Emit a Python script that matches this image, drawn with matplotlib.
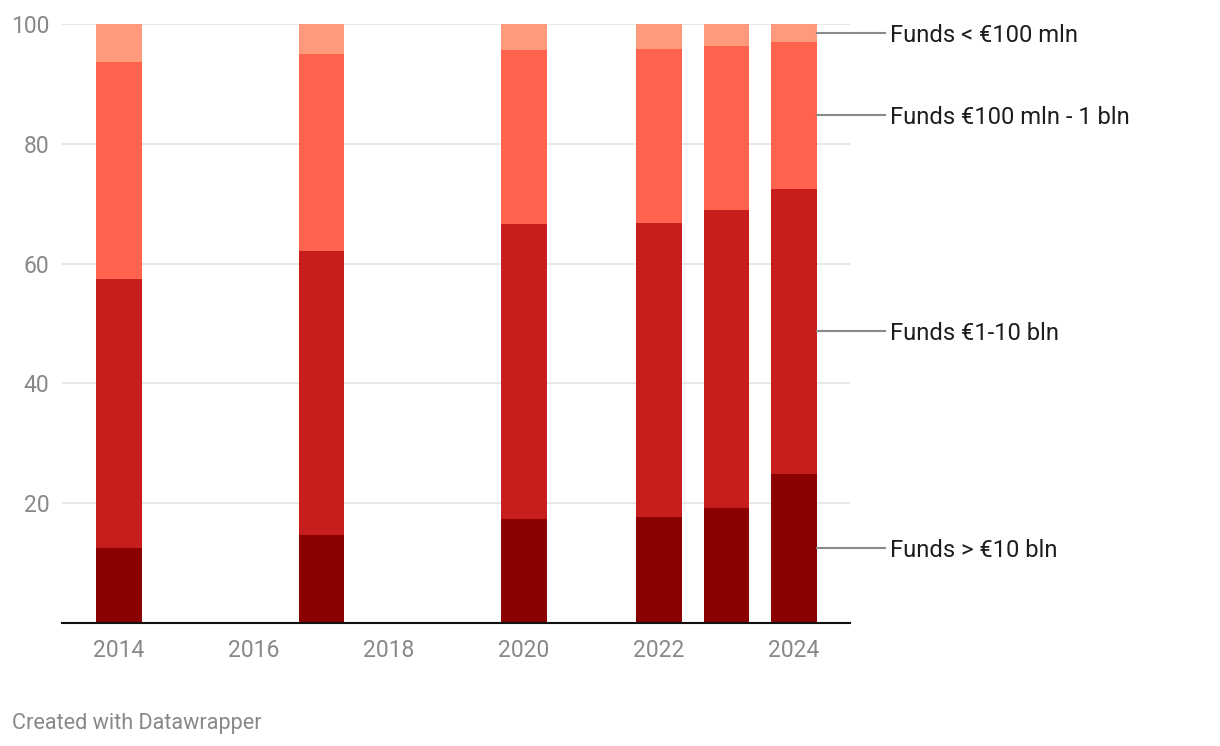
import matplotlib
matplotlib.use("Agg")
import matplotlib.pyplot as plt
import numpy as np

plt.rcParams['font.family'] = ['Roboto', 'DejaVu Sans']

years = [2014, 2017, 2020, 2022, 2023, 2024]
series_names = ["Funds > €10 bln", "Funds €1-10 bln", "Funds €100 mln - 1 bln", "Funds < €100 mln"]
over_10bln = [12.5, 14.7, 17.4, 17.7, 19.2, 24.9]
bln_1_10 = [44.9, 47.4, 49.2, 49.1, 49.8, 47.6]
mln100_1bln = [36.3, 32.9, 29.1, 29.0, 27.3, 24.5]
under_100mln = [6.3, 5.0, 4.3, 4.2, 3.7, 3.0]
colors = ["#8b0000", "#c81d1d", "#ff624d", "#ff9a7d"]
xticks = [2014, 2016, 2018, 2020, 2022, 2024]
yticks = [20, 40, 60, 80, 100]

W, H = 1220, 746
fig = plt.figure(figsize=(W/100, H/100), dpi=100)
ax = fig.add_axes([62/W, (H-623)/H, (850-62)/W, (623-24)/H])

data = [over_10bln, bln_1_10, mln100_1bln, under_100mln]
bottom = np.zeros(len(years))
width = 0.68
for vals, c in zip(data, colors):
    ax.bar(years, vals, width=width, bottom=bottom, color=c, zorder=3, linewidth=0)
    bottom += np.array(vals)

ax.set_xlim(2013.156, 2024.83)
ax.set_ylim(0, 100)
ax.set_yticks(yticks)
ax.set_xticks(xticks)
ax.grid(axis='y', color='#e0e0e0', linewidth=1.1, zorder=0)
for s in ['top', 'right', 'left']:
    ax.spines[s].set_visible(False)
ax.spines['bottom'].set_color('#111111')
ax.spines['bottom'].set_linewidth(1.5)
ax.spines['bottom'].set_zorder(4)
ax.tick_params(axis='both', length=0, labelsize=16.5, labelcolor='#888888')
ax.tick_params(axis='y', pad=9)
ax.tick_params(axis='x', pad=11.5)

# direct labels on the last bar
last = [d[-1] for d in data]
cum = np.cumsum([0] + last)
x_end = years[-1] + width/2
for i, name in enumerate(series_names):
    mid = (cum[i] + cum[i+1]) / 2
    ax.annotate(name, xy=(x_end, mid), xytext=(890/W, mid), textcoords=('figure fraction', 'data'),
                va='center_baseline', ha='left', fontsize=17.1, color='#1d1d1d',
                annotation_clip=False)
    ax.plot([x_end, x_end + (885-817)/67.5], [mid, mid], color='#8a8a8a', lw=1.5,
            clip_on=False, zorder=5)

fig.text(12/W, (H-723)/H, "Created with Datawrapper", fontsize=15.6, color='#888888',
         va='center', ha='left')

fig.savefig("out.png", dpi=100)
